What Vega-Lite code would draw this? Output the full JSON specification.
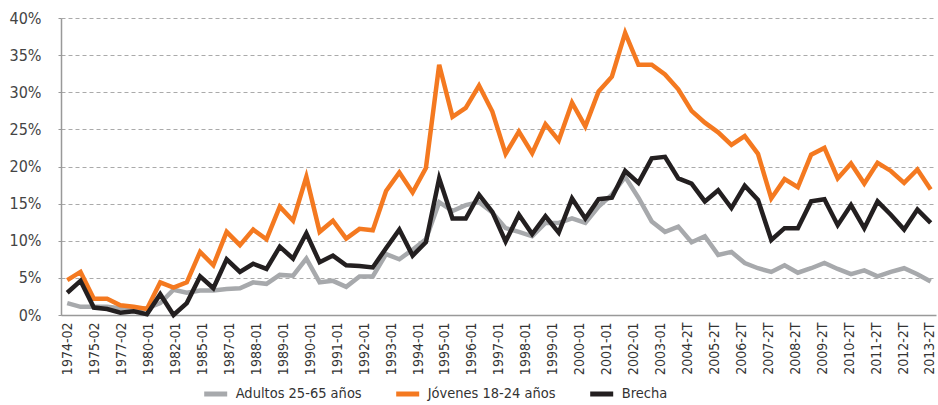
{
  "$schema": "https://vega.github.io/schema/vega-lite/v6.json",
  "width": 875,
  "height": 297,
  "autosize": {"type": "none"},
  "padding": {"left": 61, "top": 18, "right": 2, "bottom": 90},
  "background": "white",
  "data": {"values": [
    {"t":0,"periodo":"1974-02","adultos":1.6,"jovenes":4.7,"brecha":3.0},
    {"t":1,"periodo":"1974-04","adultos":1.1,"jovenes":5.8,"brecha":4.6},
    {"t":2,"periodo":"1975-02","adultos":1.1,"jovenes":2.2,"brecha":1.0},
    {"t":3,"periodo":"1976-02","adultos":1.1,"jovenes":2.2,"brecha":0.8},
    {"t":4,"periodo":"1977-02","adultos":0.9,"jovenes":1.3,"brecha":0.3},
    {"t":5,"periodo":"1978-02","adultos":0.8,"jovenes":1.1,"brecha":0.5},
    {"t":6,"periodo":"1980-01","adultos":0.9,"jovenes":0.8,"brecha":0.1},
    {"t":7,"periodo":"1981-01","adultos":1.6,"jovenes":4.4,"brecha":2.8},
    {"t":8,"periodo":"1982-01","adultos":3.4,"jovenes":3.7,"brecha":0.0},
    {"t":9,"periodo":"1983-01","adultos":3.0,"jovenes":4.4,"brecha":1.6},
    {"t":10,"periodo":"1985-01","adultos":3.3,"jovenes":8.5,"brecha":5.2},
    {"t":11,"periodo":"1986-01","adultos":3.3,"jovenes":6.7,"brecha":3.6},
    {"t":12,"periodo":"1987-01","adultos":3.5,"jovenes":11.2,"brecha":7.5},
    {"t":13,"periodo":"1987-02","adultos":3.6,"jovenes":9.4,"brecha":5.8},
    {"t":14,"periodo":"1988-01","adultos":4.4,"jovenes":11.5,"brecha":6.9},
    {"t":15,"periodo":"1988-02","adultos":4.2,"jovenes":10.2,"brecha":6.2},
    {"t":16,"periodo":"1989-01","adultos":5.4,"jovenes":14.6,"brecha":9.2},
    {"t":17,"periodo":"1989-02","adultos":5.3,"jovenes":12.7,"brecha":7.6},
    {"t":18,"periodo":"1990-01","adultos":7.6,"jovenes":18.6,"brecha":11.0},
    {"t":19,"periodo":"1990-02","adultos":4.4,"jovenes":11.2,"brecha":7.1},
    {"t":20,"periodo":"1991-01","adultos":4.6,"jovenes":12.7,"brecha":8.0},
    {"t":21,"periodo":"1991-02","adultos":3.8,"jovenes":10.3,"brecha":6.7},
    {"t":22,"periodo":"1992-01","adultos":5.2,"jovenes":11.6,"brecha":6.6},
    {"t":23,"periodo":"1992-02","adultos":5.2,"jovenes":11.4,"brecha":6.4},
    {"t":24,"periodo":"1993-01","adultos":8.2,"jovenes":16.7,"brecha":9.0},
    {"t":25,"periodo":"1993-02","adultos":7.5,"jovenes":19.2,"brecha":11.5},
    {"t":26,"periodo":"1994-01","adultos":8.8,"jovenes":16.5,"brecha":8.0},
    {"t":27,"periodo":"1994-02","adultos":10.2,"jovenes":19.8,"brecha":9.8},
    {"t":28,"periodo":"1995-01","adultos":15.2,"jovenes":33.7,"brecha":18.4},
    {"t":29,"periodo":"1995-02","adultos":14.0,"jovenes":26.7,"brecha":13.0},
    {"t":30,"periodo":"1996-01","adultos":14.8,"jovenes":27.9,"brecha":13.0},
    {"t":31,"periodo":"1996-02","adultos":15.2,"jovenes":30.9,"brecha":16.2},
    {"t":32,"periodo":"1997-01","adultos":13.8,"jovenes":27.4,"brecha":13.9},
    {"t":33,"periodo":"1997-02","adultos":11.7,"jovenes":21.7,"brecha":9.9},
    {"t":34,"periodo":"1998-01","adultos":11.2,"jovenes":24.7,"brecha":13.5},
    {"t":35,"periodo":"1998-02","adultos":10.6,"jovenes":21.8,"brecha":10.9},
    {"t":36,"periodo":"1999-01","adultos":12.4,"jovenes":25.7,"brecha":13.3},
    {"t":37,"periodo":"1999-02","adultos":12.4,"jovenes":23.5,"brecha":11.1},
    {"t":38,"periodo":"2000-01","adultos":13.0,"jovenes":28.6,"brecha":15.7},
    {"t":39,"periodo":"2000-02","adultos":12.4,"jovenes":25.4,"brecha":13.0},
    {"t":40,"periodo":"2001-01","adultos":14.6,"jovenes":30.1,"brecha":15.6},
    {"t":41,"periodo":"2001-02","adultos":16.2,"jovenes":32.1,"brecha":15.8},
    {"t":42,"periodo":"2002-01","adultos":18.6,"jovenes":38.0,"brecha":19.4},
    {"t":43,"periodo":"2002-02","adultos":15.8,"jovenes":33.7,"brecha":17.8},
    {"t":44,"periodo":"2003-01","adultos":12.6,"jovenes":33.7,"brecha":21.1},
    {"t":45,"periodo":"2003-02","adultos":11.2,"jovenes":32.4,"brecha":21.3},
    {"t":46,"periodo":"2004-2T","adultos":11.9,"jovenes":30.4,"brecha":18.4},
    {"t":47,"periodo":"2004-4T","adultos":9.8,"jovenes":27.5,"brecha":17.7},
    {"t":48,"periodo":"2005-2T","adultos":10.6,"jovenes":25.9,"brecha":15.3},
    {"t":49,"periodo":"2005-4T","adultos":8.1,"jovenes":24.6,"brecha":16.8},
    {"t":50,"periodo":"2006-2T","adultos":8.5,"jovenes":22.9,"brecha":14.4},
    {"t":51,"periodo":"2006-4T","adultos":7.0,"jovenes":24.1,"brecha":17.4},
    {"t":52,"periodo":"2007-2T","adultos":6.3,"jovenes":21.7,"brecha":15.5},
    {"t":53,"periodo":"2007-4T","adultos":5.8,"jovenes":15.7,"brecha":10.1},
    {"t":54,"periodo":"2008-2T","adultos":6.7,"jovenes":18.3,"brecha":11.7},
    {"t":55,"periodo":"2008-4T","adultos":5.7,"jovenes":17.2,"brecha":11.7},
    {"t":56,"periodo":"2009-2T","adultos":6.3,"jovenes":21.6,"brecha":15.3},
    {"t":57,"periodo":"2009-4T","adultos":7.0,"jovenes":22.5,"brecha":15.6},
    {"t":58,"periodo":"2010-2T","adultos":6.2,"jovenes":18.4,"brecha":12.1},
    {"t":59,"periodo":"2010-4T","adultos":5.5,"jovenes":20.4,"brecha":14.8},
    {"t":60,"periodo":"2011-2T","adultos":6.0,"jovenes":17.7,"brecha":11.7},
    {"t":61,"periodo":"2011-4T","adultos":5.2,"jovenes":20.5,"brecha":15.3},
    {"t":62,"periodo":"2012-2T","adultos":5.8,"jovenes":19.4,"brecha":13.5},
    {"t":63,"periodo":"2012-4T","adultos":6.3,"jovenes":17.8,"brecha":11.5},
    {"t":64,"periodo":"2013-2T","adultos":5.5,"jovenes":19.6,"brecha":14.2},
    {"t":65,"periodo":"2013-4T","adultos":4.5,"jovenes":16.9,"brecha":12.4}
  ]},
  "transform": [{"fold": ["adultos", "jovenes", "brecha"], "as": ["serie", "valor"]}],
  "mark": {"type": "line", "strokeWidth": 4.5, "strokeJoin": "miter", "strokeMiterLimit": 4, "strokeCap": "butt"},
  "encoding": {
    "x": {
      "field": "t", "type": "quantitative",
      "scale": {"domain": [-0.47, 65.4], "nice": false, "zero": false},
      "axis": {
        "title": null,
        "values": [0, 2.03125, 4.0625, 6.09375, 8.125, 10.15625, 12.1875, 14.21875, 16.25, 18.28125, 20.3125, 22.34375, 24.375, 26.40625, 28.4375, 30.46875, 32.5, 34.53125, 36.5625, 38.59375, 40.625, 42.65625, 44.6875, 46.71875, 48.75, 50.78125, 52.8125, 54.84375, 56.875, 58.90625, 60.9375, 62.96875, 64.9],
        "labelExpr": "['1974-02','1975-02','1977-02','1980-01','1982-01','1985-01','1987-01','1988-01','1989-01','1990-01','1991-01','1992-01','1993-01','1994-01','1995-01','1996-01','1997-01','1998-01','1999-01','2000-01','2001-01','2002-01','2003-01','2004-2T','2005-2T','2006-2T','2007-2T','2008-2T','2009-2T','2010-2T','2011-2T','2012-2T','2013-2T'][round(datum.value/2.03125)]",
        "labelAngle": -90, "labelAlign": "right", "labelBaseline": "middle",
        "labelFontSize": 14, "labelColor": "#333333", "labelPadding": 7,
        "labelOverlap": false, "labelFlush": false, "labelBound": false,
        "ticks": false, "grid": false,
        "domainColor": "#999999", "domainWidth": 1.5
      }
    },
    "y": {
      "field": "valor", "type": "quantitative",
      "scale": {"domain": [0, 40], "nice": false},
      "axis": {
        "title": null,
        "values": [0, 5, 10, 15, 20, 25, 30, 35, 40],
        "labelExpr": "datum.value + '%'",
        "labelFontSize": 16, "labelColor": "#444444", "labelPadding": 17,
        "tickSize": 3, "tickColor": "#999999",
        "grid": true, "gridDash": [4, 3], "gridColor": "#aaaaaa", "gridWidth": 1,
        "domainColor": "#999999", "domainWidth": 1.5
      }
    },
    "color": {
      "field": "serie", "type": "nominal",
      "scale": {"domain": ["adultos", "jovenes", "brecha"], "range": ["#A7A9AC", "#F47920", "#231F20"]},
      "legend": {
        "orient": "none", "legendX": 140.7, "legendY": 362,
        "direction": "horizontal", "title": null,
        "columnPadding": 24,
        "symbolType": "stroke", "symbolStrokeWidth": 5, "symbolSize": 529,
        "labelFontSize": 14.5, "labelColor": "#333333", "labelOffset": 6, "labelLimit": 300,
        "labelExpr": "{'adultos':'Adultos 25-65 años','jovenes':'Jóvenes 18-24 años','brecha':'Brecha'}[datum.label]"
      }
    }
  },
  "config": {
    "view": {"stroke": null},
    "font": "Liberation Sans Narrow, DejaVu Sans Condensed, sans-serif"
  }
}
